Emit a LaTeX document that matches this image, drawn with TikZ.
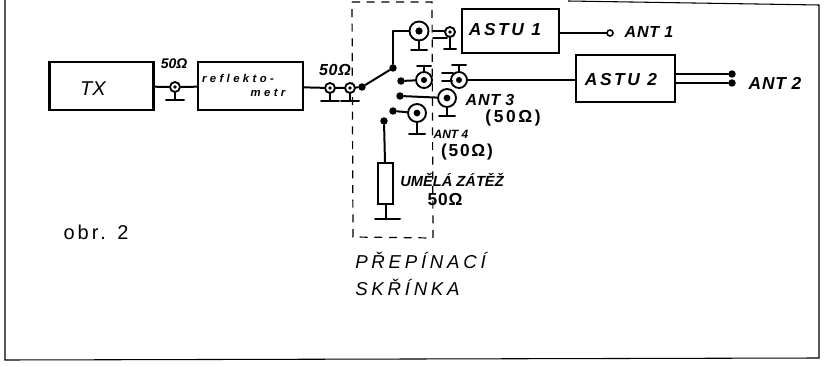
\documentclass[tikz,border=0pt]{standalone}
\usepackage{fontspec}
\setmainfont{Liberation Sans}
\usetikzlibrary{calc}
\newcommand{\fsz}[2]{\fontsize{#1}{#1}\selectfont\addfontfeature{LetterSpace=#2}}
\tikzset{
  ink/.style={line width=1.5pt,line cap=round,line join=round,black},
  blockbox/.style={draw,line width=1.7pt,rectangle,inner sep=0pt},
  coaxring/.style={draw,circle,line width=1.4pt,inner sep=0pt,fill=white},
  handlbl/.style={inner sep=0pt},
  dotf/.style={circle,fill=black,inner sep=0pt,minimum size=5.6pt},
  doto/.style={circle,draw,line width=1.2pt,fill=white,inner sep=0pt,minimum size=4.5pt},
  frameink/.style={line width=.8pt,black},
  boxdash/.style={line width=.9pt,dash pattern=on 6pt off 5pt,black}
}
% name, x, y, radius, y of base, half width of base
\newcommand{\coaxconn}[6]{%
  \coordinate (#1-b) at (#2,#5);
  \coordinate (#1-l) at (#2-#6,#5);
  \coordinate (#1-r) at (#2+#6,#5);
  \node[coaxring,minimum size=#4*1.5pt] (#1) at (#2,#3) {};
  \fill (#1) circle[radius=#4*.38];
  \draw[ink] (#1) -- (#1-b);
  \draw[ink] (#1-l) -- (#1-r);
}
\begin{document}
\begin{tikzpicture}[x=.75pt,y=-.75pt]
\useasboundingbox (0,0) rectangle (824,367);
% outer frame
\coordinate (f1) at (568,1); \coordinate (f2) at (819,5);
\coordinate (f3) at (819,358); \coordinate (f4) at (5,360); \coordinate (f5) at (5,0);
\draw[frameink] (f1) -- (f2) -- (f3) -- (f4) -- (f5);
% switch box
\coordinate (d1) at (352,2); \coordinate (d2) at (432,2);
\coordinate (d3) at (433,238); \coordinate (d4) at (353,237);
\draw[boxdash] (d1) -- (d2) -- (d3) -- (d4) -- cycle;
% blocks
\node[blockbox,minimum width=78pt,minimum height=36pt] (tx) at (101.5,86) {};
\node[handlbl,font=\itshape\fsz{15}{0}] (txl) at (93,89) {TX};
\node[blockbox,minimum width=79pt,minimum height=36pt] (refl) at (250.5,86) {};
\node[handlbl,font=\itshape\bfseries\fsz{8.5}{30}] (refla) at (238,78) {reflekto-};
\node[handlbl,font=\itshape\bfseries\fsz{8.5}{30}] (reflb) at (268,93) {metr};
\node[blockbox,minimum width=73pt,minimum height=33pt] (astu1) at (510.5,31) {};
\node[handlbl,font=\itshape\bfseries\fsz{13}{15}] (astu1l) at (505,30) {ASTU 1};
\node[blockbox,minimum width=74pt,minimum height=35pt] (astu2) at (625.5,78.5) {};
\node[handlbl,font=\itshape\bfseries\fsz{13}{15}] (astu2l) at (621,80) {ASTU 2};
% coax connectors
\coaxconn{c1}{175}{87}{5}{100}{9}
\coaxconn{c2}{330}{88}{5}{101}{9}
\coaxconn{c3}{350}{88}{5}{101}{9}
\coaxconn{c4}{419}{31}{9.5}{50}{8}
\coaxconn{c5}{450}{32}{5}{49}{6}
\coaxconn{c6}{424}{80}{8}{66}{7}
\coaxconn{c7}{459}{80}{8}{65}{7}
\coaxconn{c8}{447}{98}{9}{116}{8}
\coaxconn{c9}{417}{113}{9}{134}{8}
% switch contacts
\node[dotf] (piv) at (362,87) {};
\node[dotf] (k1) at (393,68) {};
\node[dotf] (k2) at (401,81) {};
\node[dotf] (k3) at (400,96) {};
\node[dotf] (k4) at (393,111) {};
\node[dotf] (k5) at (384,121) {};
\node[doto] (ant1p) at (610,33) {};
\node[dotf] (ant2a) at (732,74) {};
\node[dotf] (ant2b) at (732,83) {};
% resistor
\node[draw,line width=1.5pt,rectangle,inner sep=0pt,minimum width=11pt,minimum height=31pt] (rz) at (385.5,183.5) {};
\coordinate (gnd) at (385.5,219); \coordinate (gndl) at (375,219); \coordinate (gndr) at (400,219);
% connectors
\draw[ink] (tx) -- (c1) -- (refl);
\draw[ink] (refl) -- (c2) -- (c3) -- (piv) -- (k1);
\draw[ink] (k1) |- (c4);
\draw[ink] (astu1.east |- ant1p) -- (ant1p);
\draw[ink] (k2) -- (c6);
\draw[ink] (c7) -- (astu2.west |- c7);
\draw[ink] (k3) -- (c8);
\draw[ink] (k4) -- (c9);
\draw[ink] (k5) -- (rz);
\draw[ink] (rz) -- (gnd);
\draw[ink] (gndl) -- (gndr);
\draw[ink] (astu2.east |- ant2a) -- (ant2a);
\draw[ink] (astu2.east |- ant2b) -- (ant2b);
% coupled connector pairs
\coordinate (p1a) at (433,31); \coordinate (p1b) at (445,31);
\coordinate (p2a) at (433,38); \coordinate (p2b) at (447,38);
\coordinate (p3a) at (442,73); \coordinate (p3b) at (453,73);
\coordinate (p4a) at (442,81); \coordinate (p4b) at (452,81);
\draw[ink] (p1a) -- (p1b);
\draw[ink] (p2a) -- (p2b);
\draw[ink] (p3a) -- (p3b);
\draw[ink] (p4a) -- (p4b);
% labels
\node[handlbl,font=\itshape\bfseries\fsz{10.5}{0}] (o1) at (174,64) {50Ω};
\node[handlbl,font=\itshape\bfseries\fsz{12}{5}] (o2) at (335,70) {50Ω};
\node[handlbl,font=\itshape\bfseries\fsz{12}{5}] (a1) at (649,32) {ANT 1};
\node[handlbl,font=\itshape\bfseries\fsz{13}{5}] (a2) at (775,83) {ANT 2};
\node[handlbl,font=\itshape\bfseries\fsz{12}{5}] (a3) at (490,100) {ANT 3};
\node[handlbl,font=\bfseries\fsz{13}{15}] (a3o) at (513,118) {(50Ω)};
\node[handlbl,font=\itshape\bfseries\fsz{9}{0}] (a4) at (451,134) {ANT 4};
\node[handlbl,font=\bfseries\fsz{13}{10}] (a4o) at (467,152) {(50Ω)};
\node[handlbl,font=\itshape\bfseries\fsz{11}{0}] (uz) at (452,180) {UMĚLÁ ZÁTĚŽ};
\node[handlbl,font=\bfseries\fsz{13}{5}] (uzo) at (445,200) {50Ω};
\node[handlbl,font=\fsz{15}{15}] (obr) at (96,232) {obr. 2};
\node[handlbl,font=\itshape\fsz{14}{20},anchor=west] (pr) at (355,260) {PŘEPÍNACÍ};
\node[handlbl,font=\itshape\fsz{14}{20},anchor=west] (sk) at (355,287) {SKŘÍNKA};
\end{tikzpicture}
\end{document}
